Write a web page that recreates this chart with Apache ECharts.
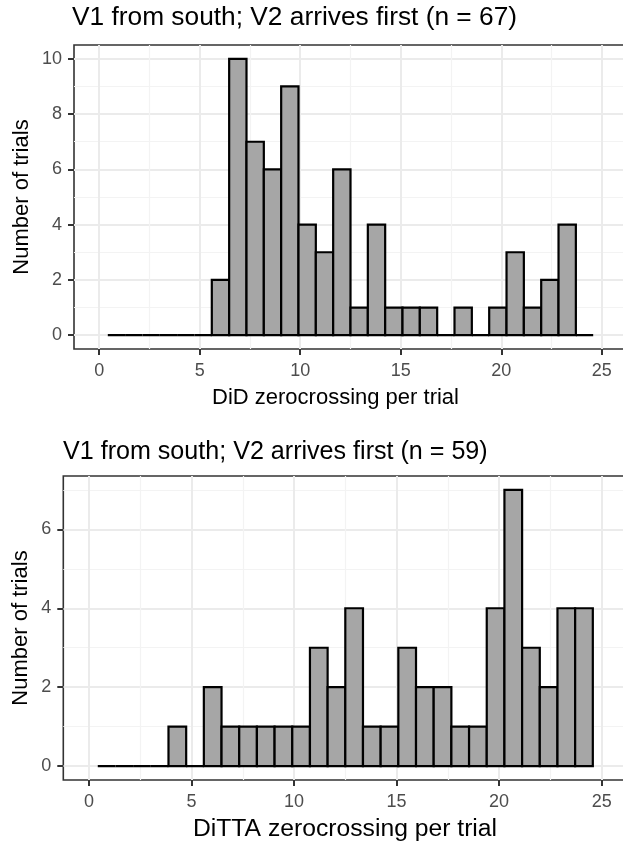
<!DOCTYPE html>
<html>
<head>
<meta charset="utf-8">
<script src="https://cdn.jsdelivr.net/npm/echarts@6/dist/echarts.min.js"></script>
<style>
  html, body { margin: 0; padding: 0; background: #ffffff; }
  #chart { width: 623px; height: 843px; }
</style>
</head>
<body>
<div id="chart"></div>
<script>
// Histogram bins: 28 bins of width 25/29 centred at these values
const binCenters = [0.862, 1.724, 2.586, 3.448, 4.310, 5.172, 6.034, 6.897, 7.759, 8.621,
                    9.483, 10.345, 11.207, 12.069, 12.931, 13.793, 14.655, 15.517, 16.379, 17.241,
                    18.103, 18.966, 19.828, 20.690, 21.552, 22.414, 23.276, 24.138];
const binWidth = 0.862;

// Counts per bin
const didCounts   = [0, 0, 0, 0, 0, 0, 2, 10, 7, 6, 9, 4, 3, 6, 1, 4, 1, 1, 1, 0, 1, 0, 1, 3, 1, 2, 4, 0];
const dittaCounts = [0, 0, 0, 0, 1, 0, 2, 1, 1, 1, 1, 1, 3, 2, 4, 1, 1, 3, 2, 2, 1, 1, 4, 7, 3, 2, 4, 4];

// Axis breaks
const xMajor = [0, 5, 10, 15, 20, 25];
const xMinor = [2.5, 7.5, 12.5, 17.5, 22.5];
const yMajorTop = [0, 2, 4, 6, 8, 10];
const yMinorTop = [1, 3, 5, 7, 9];
const yMajorBottom = [0, 2, 4, 6];
const yMinorBottom = [1, 3, 5, 7];

const titleTop = 'V1 from south; V2 arrives first (n = 67)';
const titleBottom = 'V1 from south; V2 arrives first (n = 59)';
const xNameTop = 'DiD zerocrossing per trial';
const xNameBottom = 'DiTTA zerocrossing per trial';
const yName = 'Number of trials';

const FONT = '"Liberation Sans", Arial, Helvetica, sans-serif';
const GRID_MAJOR = '#EBEBEB';
const GRID_MINOR = '#F3F3F3';
const DARK = '#333333';

const chart = echarts.init(document.getElementById('chart'), null, { renderer: 'canvas' });

function majorX(gridIndex) {
  return {
    type: 'value', gridIndex, min: -1.25, max: 26.25, position: 'bottom',
    axisLine: { show: false, onZero: false },
    axisTick: { show: true, customValues: xMajor, length: 6, lineStyle: { color: DARK, width: 2 } },
    axisLabel: { show: true, customValues: xMajor, margin: 13, color: '#4D4D4D', fontSize: 18, fontFamily: FONT },
    splitLine: { show: true, lineStyle: { color: GRID_MAJOR, width: 2 } }
  };
}
function minorX(gridIndex) {
  return {
    type: 'value', gridIndex, min: -1.25, max: 26.25, position: 'bottom',
    axisLine: { show: false, onZero: false },
    axisTick: { show: false, customValues: xMinor },
    axisLabel: { show: false },
    splitLine: { show: true, lineStyle: { color: GRID_MINOR, width: 1.2 } }
  };
}
function majorY(gridIndex, min, max, ticks, gap) {
  return {
    type: 'value', gridIndex, min, max, position: 'left',
    name: yName, nameLocation: 'middle', nameRotate: 90, nameGap: gap, nameMoveOverlap: false,
    nameTextStyle: { color: '#000', fontSize: 22, fontFamily: FONT },
    axisLine: { show: false, onZero: false },
    axisTick: { show: true, customValues: ticks, length: 6, lineStyle: { color: DARK, width: 2 } },
    axisLabel: { show: true, customValues: ticks, margin: 12, color: '#4D4D4D', fontSize: 18, fontFamily: FONT },
    splitLine: { show: true, lineStyle: { color: GRID_MAJOR, width: 2 } }
  };
}
function minorY(gridIndex, min, max, ticks) {
  return {
    type: 'value', gridIndex, min, max, position: 'left',
    axisLine: { show: false, onZero: false },
    axisTick: { show: false, customValues: ticks },
    axisLabel: { show: false },
    splitLine: { show: true, lineStyle: { color: GRID_MINOR, width: 1.2 } }
  };
}

// Each bin is drawn as an outlined rectangle; empty bins collapse to a line on zero
function renderBin(params, api) {
  const c = api.value(0);
  const n = api.value(1);
  const p0 = api.coord([c - binWidth / 2, n]);
  const p1 = api.coord([c + binWidth / 2, 0]);
  return {
    type: 'rect',
    shape: { x: p0[0], y: p0[1], width: p1[0] - p0[0], height: p1[1] - p0[1] },
    style: { fill: n > 0 ? '#A6A6A6' : 'none', stroke: '#000000', lineWidth: 2.2 }
  };
}

function binData(counts) {
  return binCenters.map((c, i) => [c, counts[i]]);
}

const option = {
  backgroundColor: '#ffffff',
  animation: false,
  textStyle: { fontFamily: FONT },
  title: [
    { text: titleTop, left: 72, top: 5, padding: 0, textStyle: { color: '#000', fontSize: 26.3, fontWeight: 'normal', fontFamily: FONT } },
    { text: titleBottom, left: 63, top: 440, padding: 0, textStyle: { color: '#000', fontSize: 25.1, fontWeight: 'normal', fontFamily: FONT } }
  ],
  grid: [
    { left: 74, top: 45, width: 553, height: 304, outerBoundsMode: 'none', containLabel: false, show: true, borderColor: DARK, borderWidth: 1.6, backgroundColor: '#fff' },
    { left: 63.3, top: 476, width: 564, height: 304, outerBoundsMode: 'none', containLabel: false, show: true, borderColor: DARK, borderWidth: 1.6, backgroundColor: '#fff' }
  ],
  xAxis: [minorX(0), majorX(0), minorX(1), majorX(1)],
  yAxis: [
    minorY(0, -0.5, 10.5, yMinorTop),
    majorY(0, -0.5, 10.5, yMajorTop, 41),
    minorY(1, -0.35, 7.35, yMinorBottom),
    majorY(1, -0.35, 7.35, yMajorBottom, 31)
  ],
  graphic: [
    { type: 'text', style: { text: xNameTop, x: 335.5, y: 398, align: 'center', verticalAlign: 'middle', fill: '#000', font: '22px ' + FONT } },
    { type: 'text', style: { text: xNameBottom, x: 345, y: 829, align: 'center', verticalAlign: 'middle', fill: '#000', font: '24.7px ' + FONT } }
  ],
  series: [
    { type: 'custom', xAxisIndex: 1, yAxisIndex: 1, renderItem: renderBin, data: binData(didCounts), z: 5 },
    { type: 'custom', xAxisIndex: 3, yAxisIndex: 3, renderItem: renderBin, data: binData(dittaCounts), z: 5 }
  ]
};

chart.setOption(option);
</script>
</body>
</html>
